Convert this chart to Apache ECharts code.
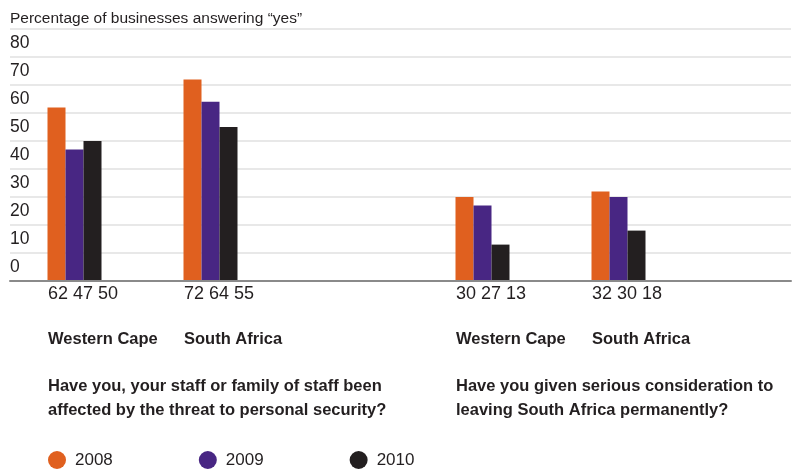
<!DOCTYPE html>
<html>
<head>
<meta charset="utf-8">
<script src="https://cdn.jsdelivr.net/npm/echarts@6/dist/echarts.min.js"></script>
<style>
  html, body { margin: 0; padding: 0; background: #fff; }
  #main { width: 797px; height: 472px; }
</style>
</head>
<body>
<div id="main"></div>
<script>
// data
var years = ['2008', '2009', '2010'];
var regions = ['Western Cape', 'South Africa'];
// values per region, one row per region, one column per year
var securityYes = [[62, 47, 50], [72, 64, 55]];
var leavingYes = [[30, 27, 13], [32, 30, 18]];
var questions = [
    'Have you, your staff or family of staff been\naffected by the threat to personal security?',
    'Have you given serious consideration to\nleaving South Africa permanently?'
];
var yTicks = [0, 10, 20, 30, 40, 50, 60, 70, 80];

var colors = ['#e0601f', '#482683', '#231f20'];
var textColor = '#231f20';
var fontName = 'Liberation Sans, Arial, sans-serif';

// slots on the category axis: two groups, a gap, two groups
var slotCount = 11;
var slotOf = [[0, 2], [6, 8]];
var blocks = [securityYes, leavingYes];

function buildSeriesData(yearIdx) {
    var arr = [];
    for (var i = 0; i < slotCount; i++) arr.push('-');
    blocks.forEach(function (block, q) {
        block.forEach(function (row, r) {
            arr[slotOf[q][r]] = row[yearIdx];
        });
    });
    return arr;
}

var slotNames = [];
for (var i = 0; i < slotCount; i++) slotNames.push('');

var myChart = echarts.init(document.getElementById('main'));

var series = years.map(function (y, k) {
    return {
        name: y,
        type: 'bar',
        xAxisIndex: 1,
        yAxisIndex: 1,
        barWidth: 18,
        barGap: '0%',
        itemStyle: { color: colors[k] },
        data: buildSeriesData(k)
    };
});

var option = {
    animation: false,
    color: colors,
    textStyle: { fontFamily: fontName },
    title: {
        text: 'Percentage of businesses answering \u201cyes\u201d',
        left: 5,
        top: 6,
        textStyle: { fontSize: 15.5, fontWeight: 'normal', color: textColor, fontFamily: fontName }
    },
    legend: {
        left: 43,
        top: 446,
        icon: 'circle',
        itemWidth: 18,
        itemHeight: 18,
        itemGap: 86,
        selectedMode: false,
        textStyle: { fontSize: 17, color: textColor, fontFamily: fontName, padding: [0, 0, 0, 4] },
        data: years
    },
    grid: [
        { left: 10, right: 6, top: 29, bottom: 191 },
        { left: 40.5, right: 8.5, top: 29, bottom: 191 }
    ],
    xAxis: [
        {
            type: 'value', gridIndex: 0, min: 0, max: 1,
            axisLine: { show: true, onZero: false, lineStyle: { color: '#8a8a8a', width: 2 } },
            axisTick: { show: false }, axisLabel: { show: false }, splitLine: { show: false },
            z: 5
        },
        {
            type: 'category', gridIndex: 1, data: slotNames,
            axisLine: { show: false }, axisTick: { show: false }, axisLabel: { show: false }
        }
    ],
    yAxis: [
        {
            type: 'value', gridIndex: 0, min: 0, max: 90, interval: 10,
            axisLine: { show: false }, axisTick: { show: false },
            splitLine: { lineStyle: { color: '#e8e8e8', width: 2 } },
            axisLabel: {
                inside: true, margin: 0, align: 'left', verticalAlign: 'bottom',
                padding: [0, 0, 5, 0],
                color: textColor, fontSize: 17.5, fontFamily: fontName,
                formatter: function (v) { return yTicks.indexOf(v) >= 0 ? String(v) : ''; }
            }
        },
        { type: 'value', gridIndex: 1, min: 0, max: 90, show: false }
    ],
    series: series
};

myChart.setOption(option);

// numbers, region names and questions under each group, aligned to the group's first bar
var groupHalf = 27.5;
var graphics = [];
blocks.forEach(function (block, q) {
    var slots = slotOf[q];
    block.forEach(function (row, r) {
        var gx = myChart.convertToPixel({ xAxisIndex: 1 }, slots[r]) - groupHalf + 1;
        graphics.push({
            type: 'text', left: gx, top: 285,
            style: { text: row.join(' '), fill: textColor, font: '18px ' + fontName }
        });
        graphics.push({
            type: 'text', left: gx, top: 331,
            style: { text: regions[r], fill: textColor, font: 'bold 16.5px ' + fontName }
        });
    });
    var qx = myChart.convertToPixel({ xAxisIndex: 1 }, slots[0]) - groupHalf + 1;
    graphics.push({
        type: 'text', left: qx, top: 374,
        style: { text: questions[q], fill: textColor, font: 'bold 16.5px ' + fontName, lineHeight: 24 }
    });
});
myChart.setOption({ graphic: graphics });
</script>
</body>
</html>
